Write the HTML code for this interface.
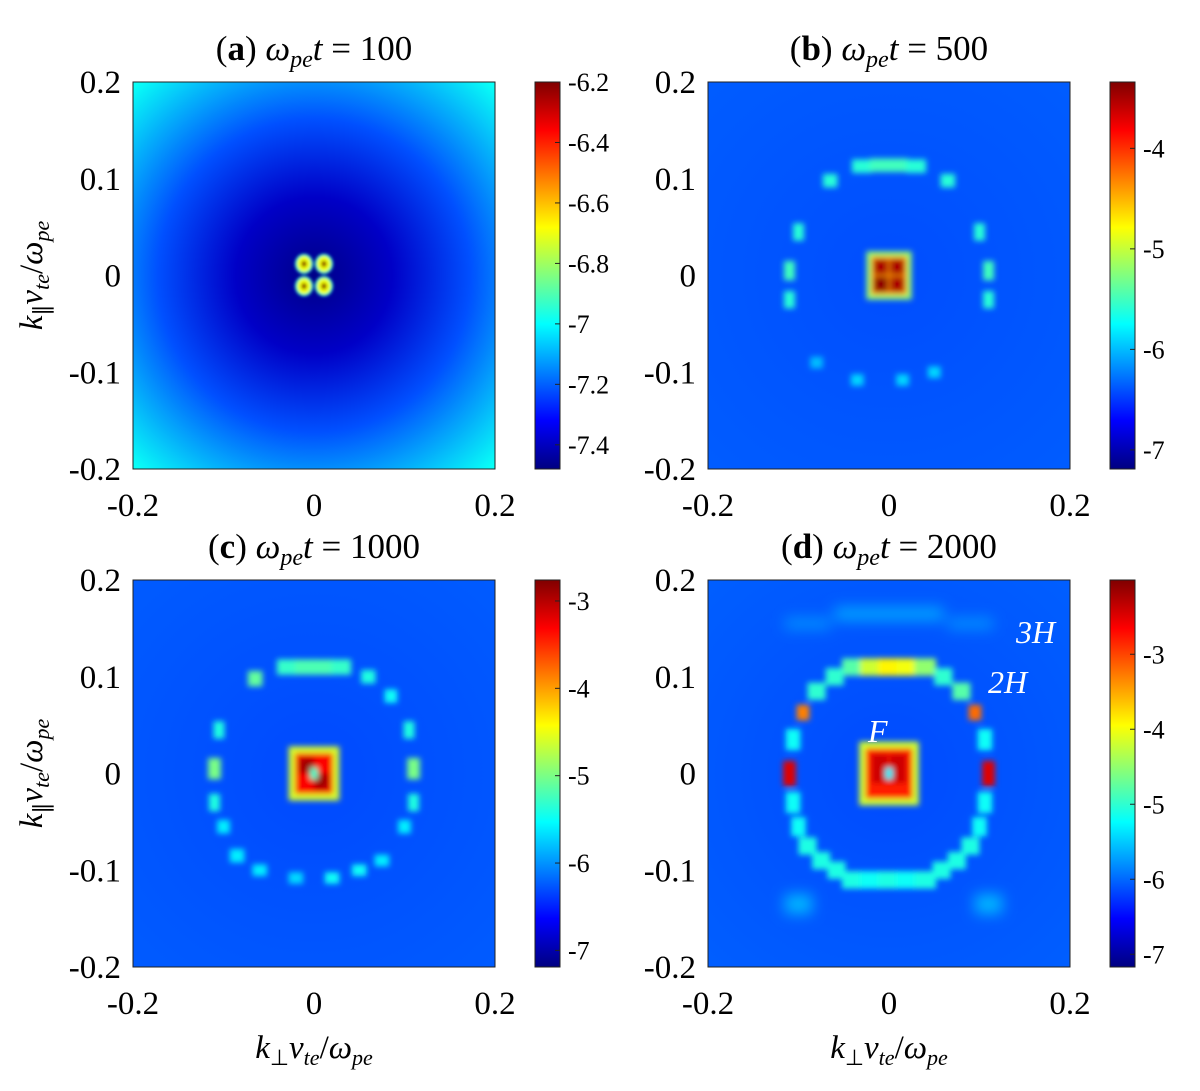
<!DOCTYPE html>
<html><head><meta charset="utf-8">
<style>
html,body{margin:0;padding:0;background:#fff;}
svg{display:block;}
text{font-family:"Liberation Serif",serif;fill:#000;}
</style></head>
<body>
<svg id="fig" width="1200" height="1091" viewBox="0 0 1200 1091" xmlns="http://www.w3.org/2000/svg">
<defs>
<filter id="blur" x="-20%" y="-20%" width="140%" height="140%"><feGaussianBlur stdDeviation="3"/></filter>
<filter id="blurA" x="-50%" y="-50%" width="200%" height="200%"><feGaussianBlur stdDeviation="1.6"/></filter>
<filter id="blur2" x="-50%" y="-50%" width="200%" height="200%"><feGaussianBlur stdDeviation="7"/></filter>
</defs>
</svg>
<script>
// ---- data ----
const panelLabels = ['a','b','c','d'];
const panelTimes = [100, 500, 1000, 2000];
const cbarMin = [-7.48, -7.19, -7.19, -7.17];
const cbarMax = [-6.2, -3.34, -2.76, -2.01];
const cbarTicksA = [-6.2,-6.4,-6.6,-6.8,-7,-7.2,-7.4];
const cbarTicksB = [-4,-5,-6,-7];
const cbarTicksC = [-3,-4,-5,-6,-7];
const cbarTicksD = [-3,-4,-5,-6,-7];
const xTicks = [-0.2,0,0.2];
const yTicks = [-0.2,-0.1,0,0.1,0.2];
const bgCenter = [-7.47, -6.42, -6.32, -6.15];
const bgEdge = [-6.99, -6.36, -6.24, -6.05];
// features: [kx, ky, value, w, h]
const featA = [[-0.011,0.012,-6.2,0.012,0.014],[0.011,0.012,-6.2,0.012,0.014],[-0.011,-0.011,-6.2,0.012,0.014],[0.011,-0.011,-6.2,0.012,0.014]];
const featB = [
 [0,0,-5.2,0.05,0.05],[0,0,-4.4,0.04,0.04],[-0.009,0.009,-3.5,0.016,0.016],[0.009,0.009,-3.5,0.016,0.016],[-0.009,-0.009,-3.4,0.016,0.016],[0.009,-0.009,-3.5,0.016,0.016],
 [-0.03,0.113,-5.6,0.022,0.014],[-0.01,0.114,-5.5,0.022,0.014],[0.01,0.114,-5.5,0.022,0.014],[0.03,0.113,-5.6,0.022,0.014],
 [-0.065,0.098,-5.6,0.016,0.014],[0.065,0.098,-5.6,0.016,0.014],
 [-0.1,0.045,-5.6,0.012,0.018],[-0.11,0.005,-5.5,0.012,0.02],[-0.11,-0.025,-5.6,0.012,0.018],
 [0.1,0.045,-5.6,0.012,0.018],[0.11,0.005,-5.5,0.012,0.02],[0.11,-0.025,-5.6,0.012,0.018],
 [-0.035,-0.108,-5.9,0.014,0.012],[0.015,-0.108,-5.9,0.014,0.012],[0.05,-0.1,-5.9,0.014,0.012],[-0.08,-0.09,-6.0,0.014,0.012]];
const featC = [
 [0,0,-4.6,0.056,0.056],[0,0,-3.3,0.042,0.042],[-0.008,0.008,-2.9,0.016,0.016],[0.008,-0.008,-2.9,0.016,0.016],[0,0,-5.3,0.008,0.012],
 [-0.03,0.11,-5.3,0.022,0.016],[-0.01,0.11,-5.2,0.022,0.016],[0.01,0.11,-5.2,0.022,0.016],[0.03,0.11,-5.3,0.022,0.016],
 [-0.065,0.098,-5.1,0.016,0.016],[0.06,0.1,-5.4,0.016,0.014],[0.085,0.08,-5.5,0.014,0.014],
 [-0.105,0.045,-5.4,0.012,0.018],[-0.11,0.005,-5.0,0.014,0.022],[-0.11,-0.03,-5.4,0.012,0.018],[-0.1,-0.055,-5.6,0.014,0.014],
 [0.105,0.045,-5.4,0.012,0.018],[0.11,0.005,-5.0,0.014,0.022],[0.11,-0.03,-5.4,0.012,0.018],[0.1,-0.055,-5.6,0.014,0.014],
 [-0.085,-0.085,-5.6,0.016,0.014],[-0.06,-0.1,-5.6,0.016,0.012],[-0.02,-0.108,-5.7,0.016,0.012],[0.02,-0.108,-5.5,0.016,0.012],
 [0.05,-0.1,-5.5,0.016,0.012],[0.075,-0.09,-5.6,0.016,0.012]];
const featD = [
 [0,0,-4.2,0.066,0.066],[0,0,-2.8,0.052,0.052],[-0.01,0.005,-2.4,0.018,0.03],[0.01,0.005,-2.4,0.018,0.03],[0,0,-5.3,0.008,0.012],
 [-0.04,0.11,-4.8,0.024,0.018],[-0.02,0.11,-4.2,0.024,0.018],[0,0.11,-3.9,0.024,0.018],[0.02,0.11,-4.0,0.024,0.018],[0.04,0.11,-4.5,0.024,0.018],
 [-0.06,0.1,-5.0,0.02,0.018],[-0.08,0.085,-5.0,0.02,0.018],[-0.095,0.063,-3.3,0.014,0.016],
 [0.06,0.1,-5.0,0.02,0.018],[0.08,0.085,-4.8,0.02,0.018],[0.095,0.063,-3.2,0.014,0.016],
 [-0.106,0.035,-5.2,0.016,0.022],[-0.11,0,-2.5,0.014,0.026],[-0.106,-0.03,-5.2,0.016,0.022],[-0.1,-0.055,-5.2,0.016,0.02],
 [0.106,0.035,-5.2,0.016,0.022],[0.11,0,-2.5,0.014,0.026],[0.106,-0.03,-5.2,0.016,0.022],[0.1,-0.055,-5.2,0.016,0.02],
 [-0.09,-0.075,-5.1,0.02,0.018],[-0.075,-0.09,-5.1,0.02,0.018],[-0.058,-0.1,-5.1,0.02,0.018],
 [0.09,-0.075,-5.1,0.02,0.018],[0.075,-0.09,-5.1,0.02,0.018],[0.058,-0.1,-5.1,0.02,0.018],
 [-0.04,-0.11,-5.1,0.024,0.018],[-0.02,-0.11,-5.2,0.024,0.018],[0,-0.11,-5.1,0.024,0.018],[0.02,-0.11,-5.2,0.024,0.018],[0.04,-0.11,-5.1,0.024,0.018]];
const faintD = [[0,0.165,-5.7,0.12,0.014],[-0.09,0.155,-5.8,0.05,0.012],[0.09,0.155,-5.8,0.05,0.012],[-0.1,-0.135,-5.6,0.03,0.02],[0.11,-0.135,-5.6,0.03,0.02]];
const feats = [featA, featB, featC, featD];
const cbarTicks = [cbarTicksA, cbarTicksB, cbarTicksC, cbarTicksD];

// ---- layout ----
const plotX = [133, 708, 133, 708];
const plotY = [82, 82, 580, 580];
const plotW = 362, plotH = 387;
const cbX = [535, 1110, 535, 1110];
const cbW = 25;

const NS = 'http://www.w3.org/2000/svg';
const svg = document.getElementById('fig');
function mk(tag, attrs, parent){const e=document.createElementNS(NS,tag);for(const k in attrs)e.setAttribute(k,attrs[k]);(parent||svg).appendChild(e);return e;}
function cl(v){return Math.max(0,Math.min(1,v));}
function jet(t){t=cl(t);const r=cl(1.5-Math.abs(4*t-3)),g=cl(1.5-Math.abs(4*t-2)),b=cl(1.5-Math.abs(4*t-1));return `rgb(${Math.round(r*255)},${Math.round(g*255)},${Math.round(b*255)})`;}

const defs = svg.querySelector('defs');
const cg = mk('linearGradient',{id:'jetgrad',x1:0,y1:1,x2:0,y2:0},defs);
for(let i=0;i<=16;i++){mk('stop',{offset:i/16,'stop-color':jet(i/16)},cg);}

for(let p=0;p<4;p++){
  const x0=plotX[p], y0=plotY[p], mn=cbarMin[p], mx=cbarMax[p];
  const col=v=>jet((v-mn)/(mx-mn));
  const sx=v=>x0+(v+0.2)/0.4*plotW;
  const sy=v=>y0+(0.2-v)/0.4*plotH;
  const g=mk('g',{});
  
  
  const clipId='clip'+p;
  const cp=mk('clipPath',{id:clipId},defs);
  mk('rect',{x:x0,y:y0,width:plotW,height:plotH},cp);
  const rg=mk('radialGradient',{id:'bg'+p,cx:sx(0),cy:sy(0),r:plotW*0.72,gradientUnits:'userSpaceOnUse'},defs);
  mk('stop',{offset:0,'stop-color':col(bgCenter[p])},rg);
  if(p===0){mk('stop',{offset:0.3,'stop-color':col(bgCenter[p]+0.08)},rg);mk('stop',{offset:0.6,'stop-color':col(bgCenter[p]+0.25)},rg);}
  mk('stop',{offset:1,'stop-color':col(bgEdge[p])},rg);
  const hm=mk('g',{'clip-path':`url(#${clipId})`},g);
  
  
  mk('rect',{x:x0,y:y0,width:plotW,height:plotH,fill:`url(#bg${p})`},hm);
  if(p===3){
    const fg=mk('g',{filter:'url(#blur2)'},hm);
    faintD.forEach(f=>{const r=mk('rect',{x:sx(f[0]-f[3]/2),y:sy(f[1]+f[4]/2),width:f[3]/0.4*plotW,height:f[4]/0.4*plotH,fill:col(f[2])},fg);
      
      });
  }
  const bg=mk('g',{filter:p===0?'url(#blurA)':'url(#blur)'},hm);
  if(p===0){
    featA.forEach(f=>{const c=mk('ellipse',{cx:sx(f[0]),cy:sy(f[1]),rx:9,ry:10,fill:col(-6.95)},bg);
      
      });
    featA.forEach(f=>{const c=mk('ellipse',{cx:sx(f[0]),cy:sy(f[1]),rx:7,ry:8,fill:col(-6.7)},bg);
      
      });
  }
  feats[p].forEach(f=>{
    const r=mk(p===0?'ellipse':'rect',p===0?{cx:sx(f[0]),cy:sy(f[1]),rx:f[3]/0.8*plotW*0.45,ry:f[4]/0.8*plotH*0.45,fill:col(f[2])}:{x:sx(f[0]-f[3]/2),y:sy(f[1]+f[4]/2),width:f[3]/0.4*plotW,height:f[4]/0.4*plotH,fill:col(f[2])},bg);
    
    
  });
  mk('rect',{x:x0,y:y0,width:plotW,height:plotH,fill:'none',stroke:'#222','stroke-width':1},g);
  xTicks.forEach(t=>{
    const lx=mk('text',{x:sx(t),y:y0+plotH+47,'text-anchor':'middle','font-size':33},g);lx.textContent=t===0?'0':String(t);
    
    
  });
  yTicks.forEach(t=>{
    const ly=mk('text',{x:x0-12,y:sy(t)+11,'text-anchor':'end','font-size':33},g);ly.textContent=t===0?'0':String(t);
    
    
  });
  const tt=mk('text',{x:x0+plotW/2,y:y0-22,'text-anchor':'middle','font-size':35},g);
  tt.innerHTML=`(<tspan font-weight="bold">${panelLabels[p]}</tspan>) <tspan font-style="italic">ω</tspan><tspan font-style="italic" font-size="24" dy="7">pe</tspan><tspan font-style="italic" dy="-7">t</tspan> = ${panelTimes[p]}`;
  
  
  const cb=mk('rect',{x:cbX[p],y:y0,width:cbW,height:plotH,fill:'url(#jetgrad)',stroke:'#222','stroke-width':1},g);
  
  
  cbarTicks[p].forEach(t=>{
    const yy=y0+(mx-t)/(mx-mn)*plotH;
    mk('line',{x1:cbX[p]+cbW-5,x2:cbX[p]+cbW,y1:yy,y2:yy,stroke:'#222'},g);
    const l=mk('text',{x:cbX[p]+cbW+8,y:yy+9,'font-size':26,'font-family':'Liberation Sans'},g);
    l.textContent=String(t);
    
    
  });
  if(p===0||p===2){
    const yl=mk('text',{x:0,y:0,'text-anchor':'middle','font-size':33,transform:`translate(42,${y0+plotH/2}) rotate(-90)`},g);
    yl.innerHTML=`<tspan font-style="italic">k</tspan><tspan font-size="22" dy="7">∥</tspan><tspan font-style="italic" dy="-7">v</tspan><tspan font-style="italic" font-size="22" dy="7">te</tspan><tspan dy="-7">/</tspan><tspan font-style="italic">ω</tspan><tspan font-style="italic" font-size="22" dy="7">pe</tspan>`;
    
    
  }
  if(p>=2){
    const xl=mk('text',{x:x0+plotW/2,y:1058,'text-anchor':'middle','font-size':33},g);
    xl.innerHTML=`<tspan font-style="italic">k</tspan><tspan font-size="22" dy="7">⊥</tspan><tspan font-style="italic" dy="-7">v</tspan><tspan font-style="italic" font-size="22" dy="7">te</tspan><tspan dy="-7">/</tspan><tspan font-style="italic">ω</tspan><tspan font-style="italic" font-size="22" dy="7">pe</tspan>`;
    
    
  }
}
[['F',868,742,'annotation-f'],['2H',988,693,'annotation-2h'],['3H',1016,643,'annotation-3h']].forEach(a=>{
  const t=mk('text',{x:a[1],y:a[2],'font-size':32,'font-style':'italic','font-family':'Liberation Sans',fill:'#fff',style:'fill:#fff'});
  t.textContent=a[0];
  
  
});
</script>
</body></html>
